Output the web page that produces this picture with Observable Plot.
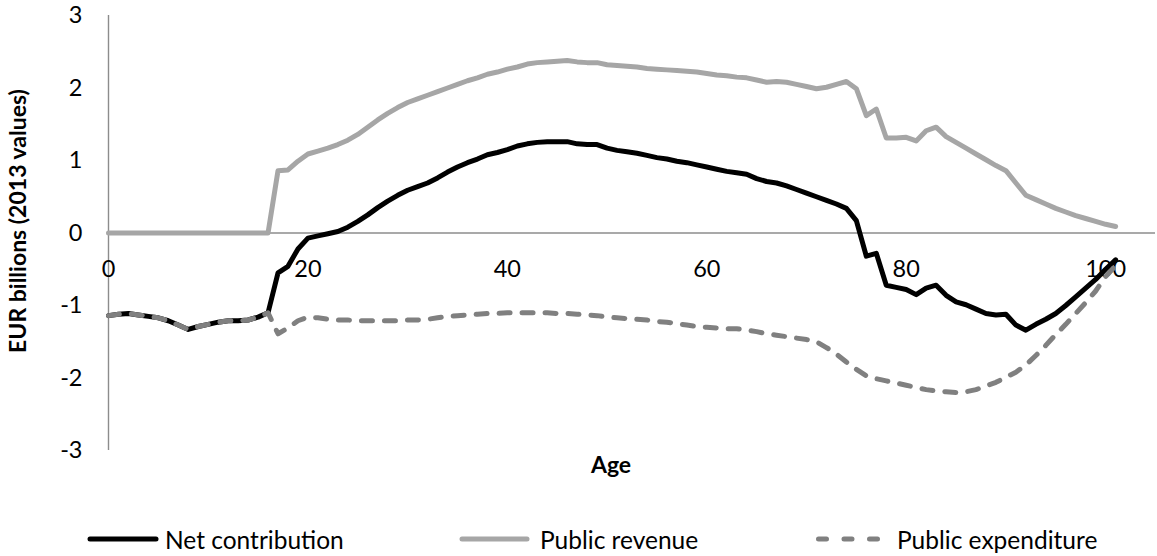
<!DOCTYPE html>
<html>
<head>
<meta charset="utf-8">
<script src="https://cdn.jsdelivr.net/npm/d3@7"></script>
<script src="https://cdn.jsdelivr.net/npm/@observablehq/plot@0.6"></script>
<style>
  html, body { margin: 0; padding: 0; background: #fff; }
  #wrap { position: relative; width: 1157px; height: 556px; font-family: Lato, "Open Sans", sans-serif; overflow: hidden; }
  #chart { position: absolute; left: 0; top: 0; }
  .leg { position: absolute; top: 525px; height: 28px; display: flex; align-items: center; font-size: 24.5px; color: #000; white-space: nowrap; }
  .leg svg { display: block; }
</style>
</head>
<body>
<div id="wrap">
  <div id="chart"></div>
  <div class="leg" style="left:86px"><svg width="79" height="10"><line x1="4" y1="5" x2="70" y2="5" stroke="#000" stroke-width="5" stroke-linecap="round"/></svg><span>Net contribution</span></div>
  <div class="leg" style="left:458px"><svg width="82" height="10"><line x1="4" y1="5" x2="69" y2="5" stroke="#a6a6a6" stroke-width="5" stroke-linecap="round"/></svg><span>Public revenue</span></div>
  <div class="leg" style="left:814px"><svg width="83" height="10"><line x1="4.5" y1="5" x2="64" y2="5" stroke="#808080" stroke-width="5" stroke-linecap="round" stroke-dasharray="8 17.5"/></svg><span>Public expenditure</span></div>
</div>
<script>
const ages = d3.range(0, 102);

const netContribution = [
  -1.14,-1.12,-1.11,-1.13,-1.15,-1.17,-1.21,-1.27,-1.33,-1.29,
  -1.26,-1.23,-1.21,-1.21,-1.20,-1.16,-1.10,-0.55,-0.46,-0.22,
  -0.07,-0.04,-0.01,0.02,0.08,0.16,0.25,0.35,0.44,0.52,
  0.59,0.64,0.69,0.76,0.84,0.91,0.97,1.02,1.08,1.11,
  1.15,1.20,1.23,1.25,1.26,1.26,1.26,1.23,1.22,1.22,
  1.17,1.14,1.12,1.10,1.07,1.04,1.02,0.99,0.97,0.94,
  0.91,0.88,0.85,0.83,0.81,0.75,0.71,0.69,0.65,0.60,
  0.55,0.50,0.45,0.40,0.34,0.17,-0.32,-0.28,-0.72,-0.75,
  -0.78,-0.85,-0.76,-0.72,-0.86,-0.95,-0.99,-1.05,-1.11,-1.13,
  -1.12,-1.27,-1.34,-1.26,-1.19,-1.11,-1.00,-0.88,-0.76,-0.64,
  -0.50,-0.37
];

const publicRevenue = [
  0,0,0,0,0,0,0,0,0,0,
  0,0,0,0,0,0,0,0.86,0.87,0.99,
  1.09,1.13,1.17,1.22,1.28,1.36,1.46,1.56,1.65,1.73,
  1.80,1.85,1.90,1.95,2.00,2.05,2.10,2.14,2.19,2.22,
  2.26,2.29,2.33,2.35,2.36,2.37,2.38,2.36,2.35,2.35,
  2.32,2.31,2.30,2.29,2.27,2.26,2.25,2.24,2.23,2.22,
  2.20,2.18,2.17,2.15,2.14,2.11,2.08,2.09,2.08,2.05,
  2.02,1.99,2.01,2.05,2.09,1.99,1.62,1.71,1.31,1.31,
  1.32,1.27,1.41,1.46,1.33,1.25,1.17,1.09,1.01,0.93,
  0.86,0.69,0.52,0.46,0.40,0.34,0.29,0.24,0.20,0.16,
  0.12,0.09
];

const publicExpenditure = [
  -1.14,-1.12,-1.11,-1.13,-1.15,-1.17,-1.21,-1.27,-1.33,-1.29,
  -1.26,-1.23,-1.21,-1.21,-1.20,-1.16,-1.10,-1.39,-1.31,-1.21,
  -1.16,-1.17,-1.19,-1.20,-1.20,-1.21,-1.21,-1.21,-1.21,-1.21,
  -1.20,-1.20,-1.19,-1.17,-1.15,-1.14,-1.13,-1.12,-1.11,-1.11,
  -1.10,-1.10,-1.10,-1.10,-1.10,-1.11,-1.11,-1.12,-1.13,-1.14,
  -1.16,-1.17,-1.18,-1.19,-1.20,-1.22,-1.23,-1.25,-1.27,-1.29,
  -1.30,-1.31,-1.32,-1.32,-1.34,-1.36,-1.39,-1.41,-1.43,-1.45,
  -1.47,-1.50,-1.58,-1.67,-1.78,-1.88,-1.97,-2.01,-2.04,-2.07,
  -2.10,-2.13,-2.16,-2.18,-2.19,-2.20,-2.19,-2.16,-2.11,-2.06,
  -1.99,-1.92,-1.82,-1.69,-1.55,-1.40,-1.26,-1.11,-0.96,-0.80,
  -0.60,-0.45
];

const xTicks = [0, 20, 40, 60, 80, 100];
const yTicks = [-3, -2, -1, 0, 1, 2, 3];
const yTitle = "EUR billions (2013 values)";
const xTitle = "Age";

const series = [
  {name: "Net contribution", values: netContribution},
  {name: "Public revenue", values: publicRevenue},
  {name: "Public expenditure", values: publicExpenditure}
];
const rows = series.flatMap(s => ages.map((a, i) => ({series: s.name, age: a, value: s.values[i]})));
const byName = n => rows.filter(r => r.series === n);

const font = "Lato, 'Open Sans', sans-serif";
const axisColor = "#8c8c8c";

const chart = Plot.plot({
  width: 1157,
  height: 500,
  marginLeft: 108,
  marginRight: 2,
  marginTop: 15,
  marginBottom: 50,
  style: {fontFamily: font, background: "transparent", overflow: "visible"},
  x: {domain: [0, 105], axis: null},
  y: {domain: [-3, 3], axis: null},
  marks: [
    Plot.ruleY([0], {x1: 0, x2: 105, stroke: axisColor, strokeWidth: 1.4}),
    Plot.ruleX([0], {y1: -3, y2: 3, stroke: axisColor, strokeWidth: 1.4}),
    Plot.text(xTicks, {x: d => d, y: 0, dy: 36, text: d => String(d), fontSize: 23.5, fill: "#000"}),
    Plot.text(yTicks, {x: 0, y: d => d, dx: -26, text: d => String(d), textAnchor: "end", fontSize: 23.5, fill: "#000"}),
    Plot.line(byName("Net contribution"), {x: "age", y: "value", stroke: "#000", strokeWidth: 5, strokeLinejoin: "round", strokeLinecap: "round"}),
    Plot.line(byName("Public revenue"), {x: "age", y: "value", stroke: "#a6a6a6", strokeWidth: 5, strokeLinejoin: "round", strokeLinecap: "round"}),
    Plot.line(byName("Public expenditure"), {x: "age", y: "value", stroke: "#808080", strokeWidth: 5, strokeLinejoin: "round", strokeLinecap: "round", strokeDasharray: "11 12"}),
    Plot.text([xTitle], {frameAnchor: "bottom", textAnchor: "middle", dx: -21, dy: 22, text: d => d, fontSize: 23, fontWeight: "bold", fill: "#000"}),
    Plot.text([yTitle], {frameAnchor: "left", textAnchor: "middle", dx: -90, dy: -12, rotate: -90, text: d => d, fontSize: 23, fontWeight: "bold", fill: "#000"})
  ]
});
document.getElementById("chart").appendChild(chart);
</script>
</body>
</html>
